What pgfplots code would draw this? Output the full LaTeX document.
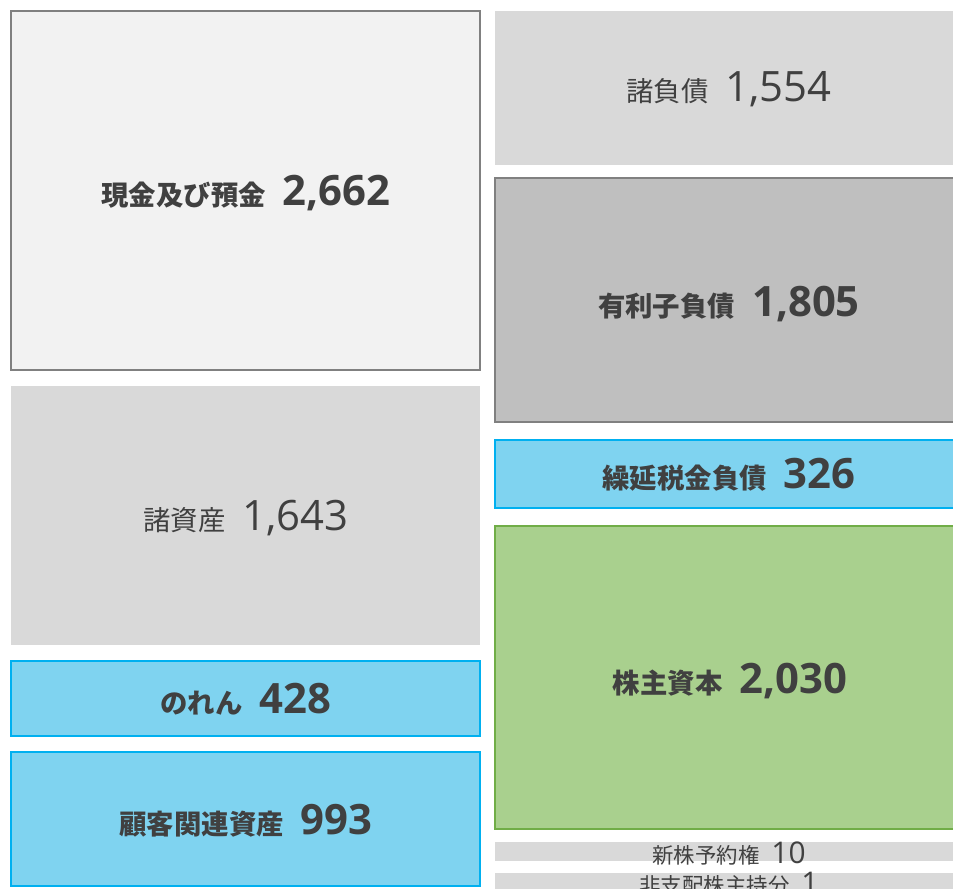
\documentclass[border=0pt]{standalone}
\usepackage{fontspec}
\setmainfont{Open Sans}
\newfontfamily\jp{Noto Sans CJK JP}
\usepackage{pgfplots}
\pgfplotsset{compat=1.18}
\definecolor{txt}{HTML}{404040}
\definecolor{lightf}{HTML}{F2F2F2}
\definecolor{grayf}{HTML}{D9D9D9}
\definecolor{midf}{HTML}{BFBFBF}
\definecolor{edgegray}{HTML}{808080}
\definecolor{bluef}{HTML}{7FD3F0}
\definecolor{bluee}{HTML}{00B0F0}
\definecolor{greenf}{HTML}{A9D08E}
\definecolor{greene}{HTML}{70AD47}
% label: #1 = jp size, #2 = num size, #3 = bold?, #4 = jp text, #5 = number
\newcommand{\blab}[3]{{\fontsize{27.5}{30}\selectfont\jp\bfseries #1}\hspace{17bp}{\fontsize{42}{44}\selectfont\bfseries #2}}
\newcommand{\rlab}[3]{{\fontsize{27.5}{30}\selectfont\jp #1}\hspace{17bp}{\fontsize{42}{44}\selectfont #2}}
\newcommand{\slab}[2]{{\fontsize{21.5}{24}\selectfont\jp #1}\hspace{12bp}{\fontsize{30}{32}\selectfont #2}}
\begin{document}
\begin{tikzpicture}
\begin{axis}[
  width=953bp, height=889bp, scale only axis,
  xmin=0, xmax=953, ymin=0, ymax=889, y dir=reverse,
  hide axis, clip=true,
]
% Assets (left)
\addplot[draw=edgegray, line width=2bp, fill=lightf] coordinates {(11,11) (480,11) (480,370) (11,370)} --cycle;
\addplot[draw=none, fill=grayf] coordinates {(11,386) (480,386) (480,645) (11,645)} --cycle;
\addplot[draw=bluee, line width=2bp, fill=bluef] coordinates {(11,661) (480,661) (480,736) (11,736)} --cycle;
\addplot[draw=bluee, line width=2bp, fill=bluef] coordinates {(11,752) (480,752) (480,886) (11,886)} --cycle;
% Liabilities & equity (right)
\addplot[draw=none, fill=grayf] coordinates {(495,11) (970,11) (970,165) (495,165)} --cycle;
\addplot[draw=edgegray, line width=2bp, fill=midf] coordinates {(495,178) (970,178) (970,422) (495,422)} --cycle;
\addplot[draw=bluee, line width=2bp, fill=bluef] coordinates {(495,440) (970,440) (970,508) (495,508)} --cycle;
\addplot[draw=greene, line width=2bp, fill=greenf] coordinates {(495,526) (970,526) (970,829) (495,829)} --cycle;
\addplot[draw=none, fill=grayf] coordinates {(495,842) (970,842) (970,861) (495,861)} --cycle;
\addplot[draw=none, fill=grayf] coordinates {(495,873) (970,873) (970,900) (495,900)} --cycle;

\begin{scope}[every node/.style={anchor=base, text=txt, inner sep=0pt}]
\node at (axis cs:246,205) {\blab{現金及び預金}{2,662}{}};
\node at (axis cs:246,530) {\rlab{諸資産}{1,643}{}};
\node at (axis cs:246,713) {\blab{のれん}{428}{}};
\node at (axis cs:246,834) {\blab{顧客関連資産}{993}{}};
\node at (axis cs:729,102) {\rlab{諸負債}{1,554}{}};
\node at (axis cs:729,316) {\blab{有利子負債}{1,805}{}};
\node at (axis cs:729,488) {\blab{繰延税金負債}{326}{}};
\node at (axis cs:730,693) {\blab{株主資本}{2,030}{}};
\node at (axis cs:729,863) {\slab{新株予約権}{10}};
\node at (axis cs:729,893) {\slab{非支配株主持分}{1}};
\end{scope}
\end{axis}
\pgfresetboundingbox
\path (0,0) rectangle (953bp,889bp);
\end{tikzpicture}
\end{document}
